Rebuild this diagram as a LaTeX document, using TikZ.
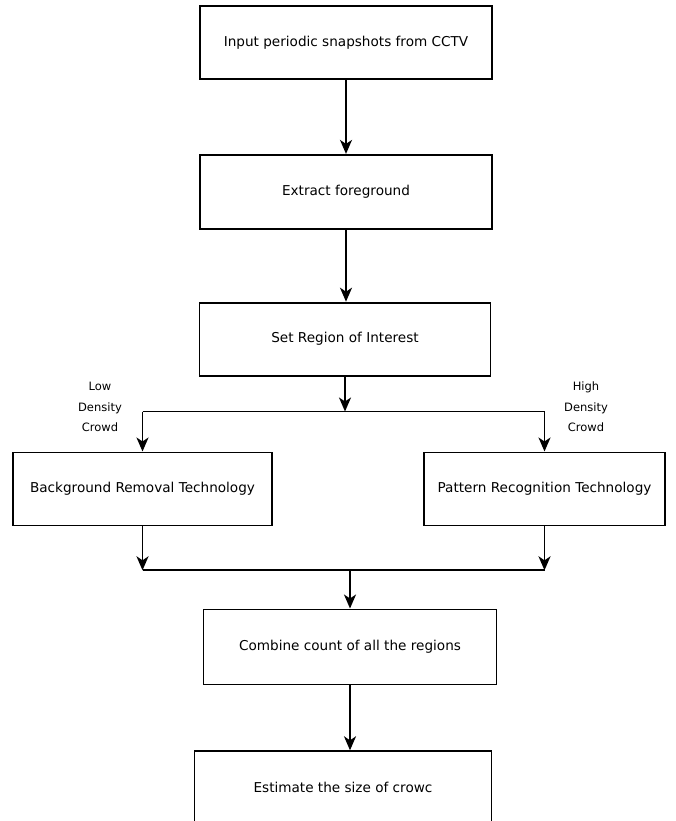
\documentclass[tikz,border=0pt]{standalone}
\usepackage{fontspec}
\setmainfont{DejaVu Sans}
\usetikzlibrary{arrows.meta,positioning}

\begin{document}
\begin{tikzpicture}[
    stage/.style={
        rectangle,
        draw=black,
        fill=white,
        line width=1.8pt,
        minimum height=73pt,
        font=\fontsize{13.6}{16}\selectfont
    },
    flow/.style={
        -{Stealth[length=14pt,width=12pt,inset=4pt]},
        line width=1.8pt
    },
    branch/.style={line width=1.8pt},
    tag/.style={
        align=center,
        font=\fontsize{11.5}{20.5}\selectfont
    }
]

    % fixed page size
    \useasboundingbox (0,0) rectangle (675pt,-821pt);

    % main column
    \node[stage, minimum width=292pt] (snap) at (346pt,-42.5pt) {Input periodic snapshots from CCTV};
    \node[stage, minimum width=292pt, minimum height=74pt, below=74pt of snap] (fg) {Extract foreground};
    \node[stage, minimum width=291pt, below=72pt of fg, xshift=-1pt] (roi) {Set Region of Interest};

    % the two techniques
    \node[stage, minimum width=259pt, below=75pt of roi, xshift=-202.5pt] (bgr) {Background Removal Technology};
    \node[stage, minimum width=241pt, below=75pt of roi, xshift=199.5pt] (prt) {Pattern Recognition Technology};

    % last two steps
    \node[stage, minimum width=293pt, minimum height=75pt, below=232pt of roi, xshift=5pt] (count) {Combine count of all the regions};
    \node[stage, minimum width=297pt, below=65pt of count, xshift=-7pt] (est) {Estimate the size of crowc};

    % split and join points
    \coordinate[below=35pt of roi.south] (split);
    \coordinate[below=44pt of bgr.south] (join);

    % labels of the branches
    \node[tag] (low) at (100pt,-407pt) {Low\\Density\\Crowd};
    \node[tag] (high) at (586pt,-407pt) {High\\Density\\Crowd};

    % arrows
    \draw[flow] (snap) -- (snap.south |- fg.north);
    \draw[flow] (fg) -- (fg.south |- roi.north);
    \draw[flow] (roi.south) -- (split);
    \draw[branch] (split -| bgr.north) -- (split -| prt.north);
    \draw[flow] (split -| bgr.north) -- (bgr.north);
    \draw[flow] (split -| prt.north) -- (prt.north);
    \draw[flow] (bgr.south) -- (join);
    \draw[flow] (prt.south) -- (join -| prt.south);
    \draw[branch] (join) -- (join -| prt.south);
    \draw[flow] (join -| count.north) -- (count.north);
    \draw[flow] (count.south) -- (count.south |- est.north);

\end{tikzpicture}
\end{document}
